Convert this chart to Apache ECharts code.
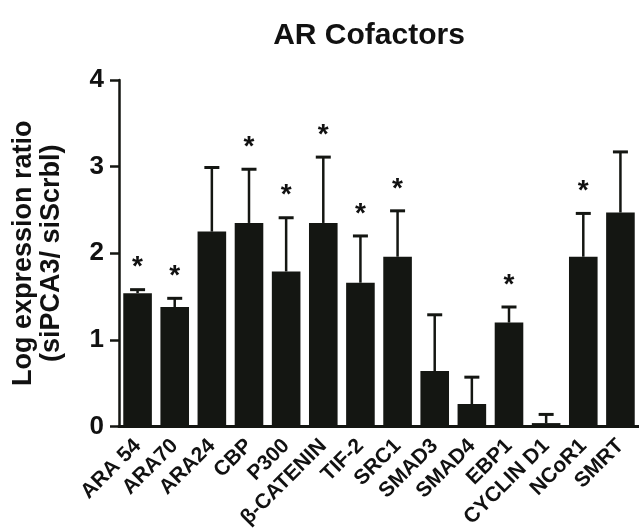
<!DOCTYPE html>
<html>
<head>
<meta charset="utf-8">
<script src="https://cdn.jsdelivr.net/npm/echarts@6/dist/echarts.min.js"></script>
<style>
html,body{margin:0;padding:0;background:#fff;overflow:hidden;}
#c{width:639px;height:531px;}
</style>
</head>
<body>
<div id="c"></div>
<script>
var categories = ['ARA 54','ARA70','ARA24','CBP','P300','\u03B2-CATENIN','TIF-2','SRC1','SMAD3','SMAD4','EBP1','CYCLIN D1','NCoR1','SMRT'];
var means = [1.54,1.38,2.25,2.35,1.79,2.35,1.66,1.96,0.64,0.26,1.20,0.04,1.96,2.47];
var errors = [0.04,0.10,0.74,0.62,0.62,0.76,0.54,0.53,0.65,0.31,0.18,0.10,0.50,0.70];
var significant = [1,1,0,1,1,1,1,1,0,0,1,0,1,0];
var yTicks = [0,1,2,3,4];

var FONT = '"Liberation Sans", Arial, Helvetica, sans-serif';
var INK = '#141612';

var errData = categories.map(function(c, i){ return [i, means[i], errors[i], significant[i]]; });

var chart = echarts.init(document.getElementById('c'), null, {renderer:'canvas'});
chart.setOption({
  animation:false,
  backgroundColor:'#fff',
  title:{
    text:'AR Cofactors',
    left:364, top:16, textAlign:'center',
    textStyle:{fontFamily:FONT, fontWeight:'bold', fontSize:30, color:'#111'}
  },
  grid:{left:119, width:526, top:80, bottom:103, containLabel:false},
  xAxis:{
    type:'category',
    data:categories,
    axisLine:{lineStyle:{color:INK, width:3}},
    axisTick:{alignWithLabel:true, length:10, lineStyle:{color:INK, width:2.5}},
    axisLabel:{rotate:45, interval:0, margin:16, padding:[8,0,0,0], fontFamily:FONT, fontWeight:'bold', fontSize:21, color:'#111'}
  },
  yAxis:{
    type:'value', min:yTicks[0], max:yTicks[yTicks.length-1], interval:1,
    name:'Log expression ratio\n(siPCA3/ siScrbl)',
    nameLocation:'middle', nameRotate:90, nameGap:53,
    nameTextStyle:{fontFamily:FONT, fontWeight:'bold', fontSize:27, lineHeight:28, color:'#111', align:'center'},
    axisLine:{show:true, lineStyle:{color:INK, width:2.5}},
    axisTick:{show:true, length:9, lineStyle:{color:INK, width:2.5}},
    axisLabel:{margin:15, fontFamily:FONT, fontWeight:'bold', fontSize:26, color:'#111'},
    splitLine:{show:false}
  },
  series:[
    {
      type:'bar', data:means, barWidth:'77%',
      itemStyle:{color:INK},
      z:2
    },
    {
      type:'custom',
      data:errData,
      encode:{x:0, y:1},
      z:3,
      renderItem:function(params, api){
        var i = api.value(0), m = api.value(1), e = api.value(2), s = api.value(3);
        var top = api.coord([i, m]);
        var cap = api.coord([i, m + e]);
        var hw = 7.5;
        var children = [
          {type:'line', shape:{x1:top[0], y1:top[1], x2:cap[0], y2:cap[1]}, style:{stroke:INK, lineWidth:2.5}},
          {type:'line', shape:{x1:cap[0]-hw, y1:cap[1], x2:cap[0]+hw, y2:cap[1]}, style:{stroke:INK, lineWidth:3}}
        ];
        if (s) {
          children.push({type:'text', x:cap[0], y:cap[1]-8,
            style:{text:'*', fontFamily:FONT, fontWeight:'bold', fontSize:28, fill:'#111', align:'center', verticalAlign:'bottom'}});
        }
        return {type:'group', children:children};
      }
    }
  ]
});
</script>
</body>
</html>
